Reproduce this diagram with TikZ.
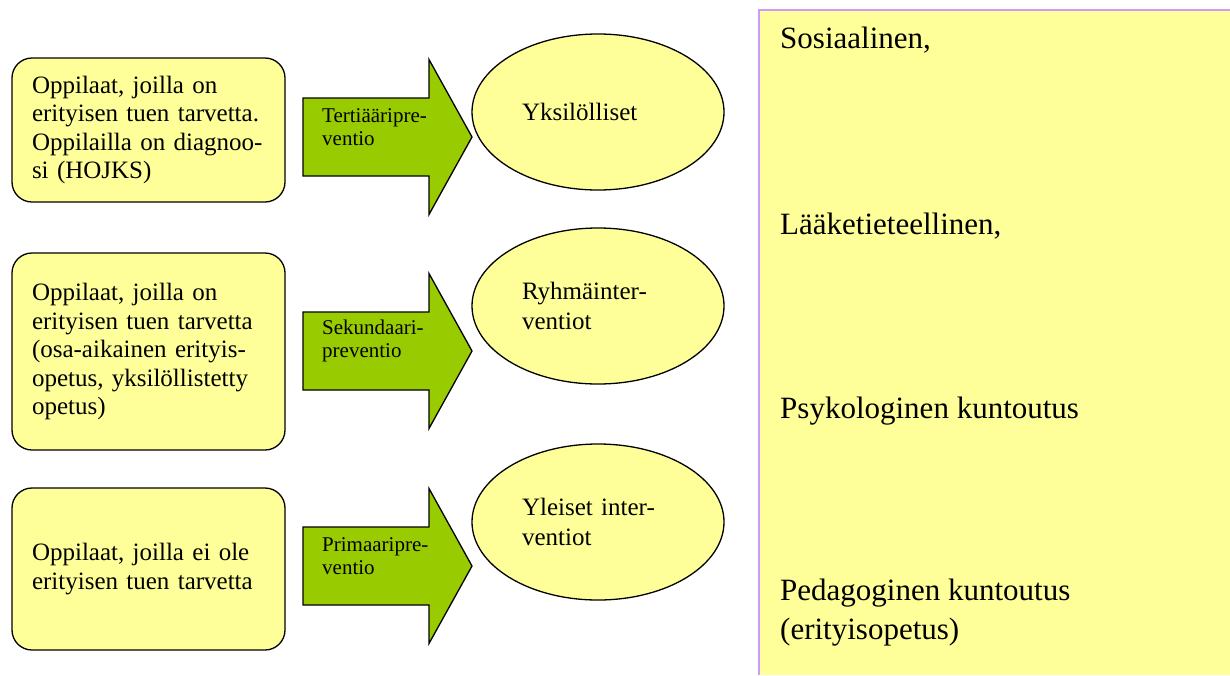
\documentclass[tikz,border=0pt]{standalone}
\usepackage{fontspec}
\setmainfont{Liberation Serif}
\usetikzlibrary{shapes.geometric}

\definecolor{paleyellow}{HTML}{FFFF99}
\definecolor{leafgreen}{HTML}{99CC00}
\definecolor{lavender}{HTML}{CC99FF}

\begin{document}
\begin{tikzpicture}[x=1pt,y=-1pt,
    box/.style={draw=black, fill=paleyellow, rounded corners=20pt, line width=1.3pt,
                minimum width=273pt, text width=233pt, inner xsep=20pt, align=left,
                font=\fontsize{25}{28.5}\selectfont},
    oval/.style={ellipse, draw=black, fill=paleyellow, line width=1.3pt, inner sep=0pt,
                 minimum width=252pt, minimum height=156pt, text width=152pt, align=left,
                 font=\fontsize{25}{30}\selectfont},
    side/.style={anchor=west, inner sep=0pt, align=left, font=\fontsize{31}{38.5}\selectfont}]

    \useasboundingbox (0,0) rectangle (1230,675);

    % left column
    \node[box, minimum height=144pt] (B1) at (148.5,130)
        {Oppilaat, joilla on\\ erityisen tuen tarvetta.\\ Oppilailla on diagnoo-\\ si (HOJKS)};
    \node[box, minimum height=197pt] (B2) at (148.5,351.5)
        {Oppilaat, joilla on\\ erityisen tuen tarvetta\\ (osa-aikainen erityis-\\ opetus, yksil\"ollistetty\\ opetus)\par\vspace{18pt}};
    \node[box, minimum height=162pt] (B3) at (148.5,569)
        {Oppilaat, joilla ei ole\\ erityisen tuen tarvetta\par\vspace{8pt}};

    % block arrows
    \foreach \n/\c/\txt in {P1/137/{Terti\"a\"aripre-\\ventio},
                            P2/351/{Sekundaari-\\preventio},
                            P3/566/{Primaaripre-\\ventio}} {
        \draw[fill=leafgreen, line width=1.3pt, line join=miter]
            (303,\c-39) -- (429,\c-39) -- (429,\c-77.5) -- (472,\c)
            -- (429,\c+77.5) -- (429,\c+39) -- (303,\c+39) -- cycle;
        \node[anchor=west, inner sep=0pt, align=left,
              font=\fontsize{21}{23}\selectfont] (\n) at (322,\c-10) {\txt};
    }

    % interventions
    \node[oval] (Y1) at (598,112) {Yksil\"olliset};
    \node[oval] (Y2) at (598,306) {Ryhm\"ainter-\\ventiot};
    \node[oval] (Y3) at (598,522) {Yleiset inter-\\ventiot};

    % right panel
    \fill[paleyellow] (759,10) rectangle (1230,675);
    \draw[lavender, line width=2pt] (759,675) -- (759,10) -- (1230,10);
    \node[side] (S1) at (780,40) {Sosiaalinen,};
    \node[side] (S2) at (780,226) {L\"a\"aketieteellinen,};
    \node[side] (S3) at (780,411) {Psykologinen kuntoutus};
    \node[side] (S4) at (780,612.5) {Pedagoginen kuntoutus\\(erityisopetus)};

\end{tikzpicture}
\end{document}
